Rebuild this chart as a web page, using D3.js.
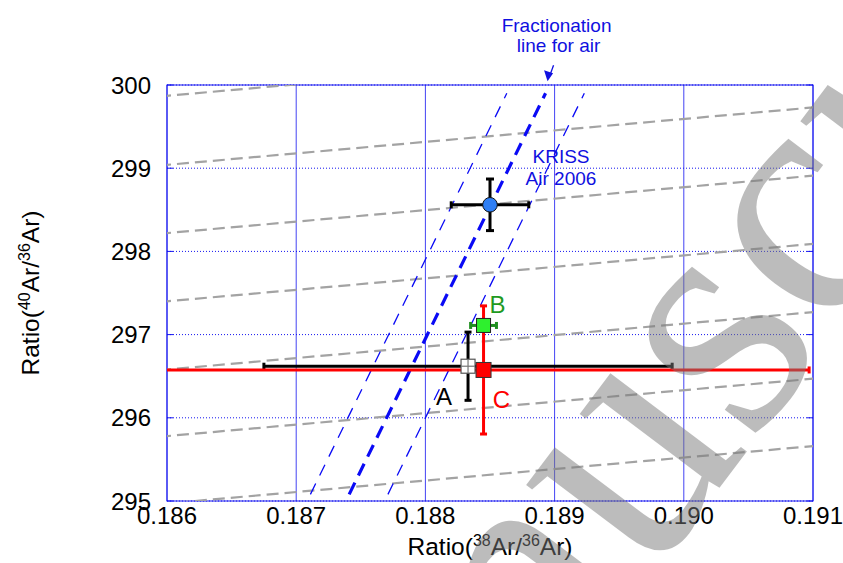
<!DOCTYPE html>
<html>
<head>
<meta charset="utf-8">
<script src="https://cdn.jsdelivr.net/npm/d3@7"></script>
<style>
  body { margin: 0; background: #fff; }
  svg { display: block; font-family: "Liberation Sans", Arial, sans-serif; }
</style>
</head>
<body>
<svg id="chart" width="843" height="563"></svg>
<script>
// axis ticks
const xTicks = [0.186, 0.187, 0.188, 0.189, 0.190, 0.191];
const yTicks = [295, 296, 297, 298, 299, 300];

// grey dashed guide lines, y at x=0.186 and at x=0.191
const greyX = [0.186, 0.191];
const greyLeft  = [299.87, 299.04, 298.22, 297.40, 296.58, 295.78, 294.97];
const greyRight = [300.56, 299.73, 298.91, 298.09, 297.27, 296.47, 295.66];

// fractionation line for air (centre) and its band
const fracX = [0.18741, 0.18893];
const fracY = [295.08, 299.90];
const fracBand = 0.0003;

// measured points
const ptName = ["A", "C", "B", "KRISS"];
const ptX    = [0.18833, 0.18845, 0.18845, 0.18850];
const ptY    = [296.62, 296.575, 297.11, 298.56];
const ptXErr = [0.00158, 0.00252, 0.0001, 0.0003];
const ptYErr = [0.41, 0.77, 0.05, 0.31];

const watermark = "Manuscript";

var width = 843, height = 563;
var margin = {top: 85, right: 30, bottom: 62, left: 167};
var w = width - margin.left - margin.right,
    h = height - margin.top - margin.bottom;

var blue = "#1414f0";

var svg = d3.select("#chart");

var x = d3.scaleLinear().domain([0.186, 0.191]).range([0, w]);
var y = d3.scaleLinear().domain([295, 300]).range([h, 0]);

svg.append("defs").append("clipPath").attr("id", "clip")
  .append("rect").attr("width", w).attr("height", h);

var g = svg.append("g").attr("transform", "translate(" + margin.left + "," + margin.top + ")");

// grid
g.selectAll(".vgrid").data(xTicks).enter().append("line")
  .attr("x1", d => x(d)).attr("x2", d => x(d))
  .attr("y1", 0).attr("y2", h)
  .attr("stroke", blue).attr("stroke-opacity", 0.8).attr("stroke-width", 1);
g.selectAll(".hgrid").data(yTicks).enter().append("line")
  .attr("x1", 0).attr("x2", w)
  .attr("y1", d => y(d)).attr("y2", d => y(d))
  .attr("stroke", blue).attr("stroke-width", 1)
  .attr("stroke-dasharray", "1,2");

// box
g.append("rect").attr("width", w).attr("height", h)
  .attr("fill", "none").attr("stroke", blue).attr("stroke-width", 1);

// inward y ticks on both sides
g.selectAll(".ytl").data(yTicks).enter().append("line")
  .attr("x1", 0).attr("x2", 6).attr("y1", d => y(d)).attr("y2", d => y(d))
  .attr("stroke", blue).attr("stroke-width", 1);
g.selectAll(".ytr").data(yTicks).enter().append("line")
  .attr("x1", w - 6).attr("x2", w).attr("y1", d => y(d)).attr("y2", d => y(d))
  .attr("stroke", blue).attr("stroke-width", 1);

// tick labels
g.selectAll(".xl").data(xTicks).enter().append("text")
  .attr("x", d => x(d)).attr("y", h + 23)
  .attr("text-anchor", "middle").attr("font-size", 24).attr("fill", "#000")
  .text(d => d3.format(".3f")(d));
g.selectAll(".yl").data(yTicks).enter().append("text")
  .attr("x", -16).attr("y", d => y(d)).attr("dy", "0.36em")
  .attr("text-anchor", "end").attr("font-size", 24).attr("fill", "#000")
  .text(d => d);

var plot = g.append("g").attr("clip-path", "url(#clip)");

// grey dashed lines
plot.selectAll(".grey").data(greyLeft).enter().append("line")
  .attr("x1", x(greyX[0])).attr("x2", x(greyX[1]))
  .attr("y1", d => y(d)).attr("y2", (d, i) => y(greyRight[i]))
  .attr("stroke", "#a3a3a3").attr("stroke-width", 2.2)
  .attr("stroke-dasharray", "12,6").attr("stroke-dashoffset", -10);

// fractionation band
[-fracBand, fracBand].forEach(function(off) {
  plot.append("line")
    .attr("x1", x(fracX[0] + off)).attr("y1", y(fracY[0]))
    .attr("x2", x(fracX[1] + off)).attr("y2", y(fracY[1]))
    .attr("stroke", "#0a0af5").attr("stroke-width", 1.3)
    .attr("stroke-dasharray", "12,9");
});
plot.append("line")
  .attr("x1", x(fracX[0])).attr("y1", y(fracY[0]))
  .attr("x2", x(fracX[1])).attr("y2", y(fracY[1]))
  .attr("stroke", "#0a0af5").attr("stroke-width", 3.2)
  .attr("stroke-dasharray", "13,8");

// error bars
var barColor = ["#000", "#ff0000", "#1f8f1f", "#000"];
var capX = [7, 7, 6, 8], capY = [7, 7, 7, 7];
ptName.forEach(function(name, i) {
  var cx = x(ptX[i]), cy = y(ptY[i]);
  var bar = plot.append("g").attr("stroke", barColor[i]).attr("stroke-width", 3);
  var xl = x(ptX[i] - ptXErr[i]), xr = x(ptX[i] + ptXErr[i]);
  var yt = y(ptY[i] + ptYErr[i]), yb = y(ptY[i] - ptYErr[i]);
  bar.append("line").attr("x1", xl).attr("x2", xr).attr("y1", cy).attr("y2", cy);
  bar.append("line").attr("x1", cx).attr("x2", cx).attr("y1", yt).attr("y2", yb);
  bar.append("line").attr("x1", xl).attr("x2", xl).attr("y1", cy - capY[i] / 2).attr("y2", cy + capY[i] / 2);
  bar.append("line").attr("x1", xr).attr("x2", xr).attr("y1", cy - capY[i] / 2).attr("y2", cy + capY[i] / 2);
  bar.append("line").attr("x1", cx - capX[i] / 2).attr("x2", cx + capX[i] / 2).attr("y1", yt).attr("y2", yt);
  bar.append("line").attr("x1", cx - capX[i] / 2).attr("x2", cx + capX[i] / 2).attr("y1", yb).attr("y2", yb);
});

// markers
var s = 14;
// A: open square with cross
var ax = x(ptX[0]), ay = y(ptY[0]);
g.append("rect").attr("x", ax - s / 2).attr("y", ay - s / 2).attr("width", s).attr("height", s)
  .attr("fill", "#fff").attr("stroke", "#555").attr("stroke-width", 1.2);
g.append("line").attr("x1", ax - s / 2).attr("x2", ax + s / 2).attr("y1", ay).attr("y2", ay)
  .attr("stroke", "#777").attr("stroke-width", 1.2);
g.append("line").attr("x1", ax).attr("x2", ax).attr("y1", ay - s / 2).attr("y2", ay + s / 2)
  .attr("stroke", "#777").attr("stroke-width", 1.2);
// C: red square
g.append("rect").attr("x", x(ptX[1]) - s / 2 - 0.5).attr("y", y(ptY[1]) - s / 2 - 0.5)
  .attr("width", s + 1).attr("height", s + 1)
  .attr("fill", "#f00").attr("stroke", "#333").attr("stroke-width", 1);
// B: green square
g.append("rect").attr("x", x(ptX[2]) - s / 2).attr("y", y(ptY[2]) - s / 2)
  .attr("width", s).attr("height", s)
  .attr("fill", "#2ef02e").attr("stroke", "#222").attr("stroke-width", 1);
// KRISS: blue circle
g.append("circle").attr("cx", x(ptX[3])).attr("cy", y(ptY[3])).attr("r", 7.3)
  .attr("fill", "#2f7ff5").attr("stroke", "#111").attr("stroke-width", 1);

// point labels
g.append("text").attr("x", ax - 24).attr("y", ay + 39)
  .attr("text-anchor", "middle").attr("font-size", 24).attr("fill", "#000").text("A");
g.append("text").attr("x", x(ptX[2]) + 14).attr("y", y(ptY[2]) - 12)
  .attr("text-anchor", "middle").attr("font-size", 24).attr("fill", "#1f9a1f").text("B");
g.append("text").attr("x", x(ptX[1]) + 18).attr("y", y(ptY[1]) + 38)
  .attr("text-anchor", "middle").attr("font-size", 24).attr("fill", "#ff0000").text("C");
var kx = x(ptX[3]) + 71, ky = y(ptY[3]);
g.append("text").attr("x", kx).attr("y", ky - 42)
  .attr("text-anchor", "middle").attr("font-size", 19).attr("fill", "#1010e0").text("KRISS");
g.append("text").attr("x", kx).attr("y", ky - 20)
  .attr("text-anchor", "middle").attr("font-size", 19).attr("fill", "#1010e0").text("Air 2006");

// fractionation label and arrow
var fx = x(fracX[1]), fy = y(fracY[1]);
g.append("text").attr("x", fx + 11).attr("y", fy - 61)
  .attr("text-anchor", "middle").attr("font-size", 19).attr("fill", "#1010e0").text("Fractionation");
g.append("text").attr("x", fx + 13).attr("y", fy - 41)
  .attr("text-anchor", "middle").attr("font-size", 19).attr("fill", "#1010e0").text("line for air");
g.append("line").attr("x1", fx + 8).attr("y1", fy - 28).attr("x2", fx + 4).attr("y2", fy - 17)
  .attr("stroke", "#1010e0").attr("stroke-width", 1.3);
g.append("path")
  .attr("d", "M" + (fx + 2) + "," + (fy - 12) + "L" + (fx - 1.5) + "," + (fy - 23) + "L" + (fx + 7.5) + "," + (fy - 20) + "Z")
  .attr("fill", "#1010e0");

// axis titles
var xt = svg.append("text").attr("x", margin.left + w / 2).attr("y", 555)
  .attr("text-anchor", "middle").attr("font-size", 24.5).attr("fill", "#000");
xt.append("tspan").text("Ratio(");
xt.append("tspan").attr("font-size", 16).attr("dy", -9).text("38");
xt.append("tspan").attr("dy", 9).text("Ar/");
xt.append("tspan").attr("font-size", 16).attr("dy", -9).text("36");
xt.append("tspan").attr("dy", 9).text("Ar)");

var yt = svg.append("text").attr("transform", "translate(39," + (margin.top + h / 2) + ") rotate(-90)")
  .attr("text-anchor", "middle").attr("font-size", 24.5).attr("fill", "#000");
yt.append("tspan").text("Ratio(");
yt.append("tspan").attr("font-size", 16).attr("dy", -9).text("40");
yt.append("tspan").attr("dy", 9).text("Ar/");
yt.append("tspan").attr("font-size", 16).attr("dy", -9).text("36");
yt.append("tspan").attr("dy", 9).text("Ar)");

// watermark: put the "s" glyph centre near (765, 375), word tilted -53 deg
var wm = svg.append("text")
  .attr("font-family", "'Liberation Serif', 'Times New Roman', serif")
  .attr("font-size", 340).attr("fill", "#7a7a7a").attr("fill-opacity", 0.5)
  .text(watermark);
var ext = wm.node().getExtentOfChar(watermark.indexOf("s"));
var ecx = ext.x + ext.width / 2, ecy = ext.y + ext.height * 0.72;
var ang = -53 * Math.PI / 180;
var rx = ecx * Math.cos(ang) - ecy * Math.sin(ang),
    ry = ecx * Math.sin(ang) + ecy * Math.cos(ang);
wm.attr("transform", "translate(" + (765 - rx) + "," + (375 - ry) + ") rotate(-53)");
</script>
</body>
</html>
